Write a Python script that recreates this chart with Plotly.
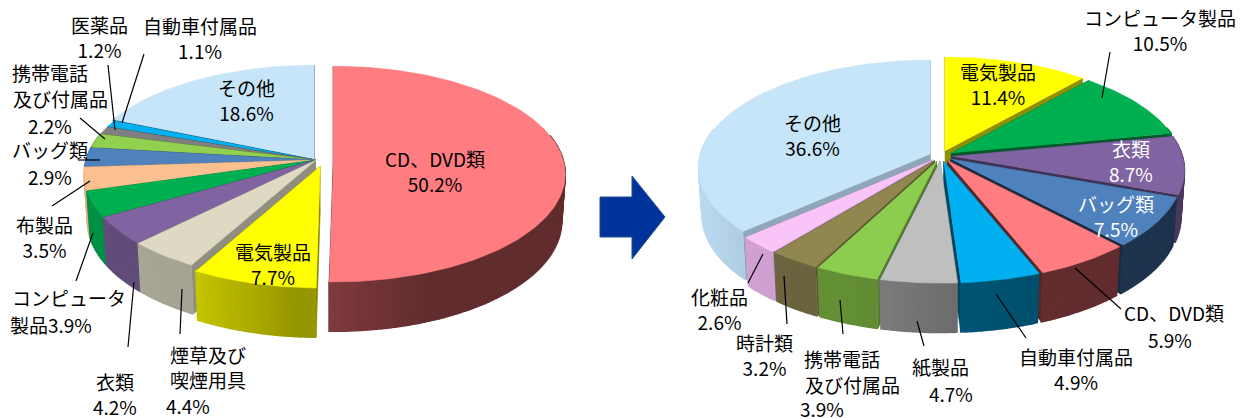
import math
import plotly.graph_objects as go

# ---------- data ----------
left_names = ["CD、DVD類", "電気製品", "煙草及び喫煙用具", "衣類", "コンピュータ製品", "布製品", "バッグ類",
              "携帯電話及び付属品", "医薬品", "自動車付属品", "その他"]
left_values = [50.2, 7.7, 4.4, 4.2, 3.9, 3.5, 2.9, 2.2, 1.2, 1.1, 18.6]
left_explode = [0.075, 0.03, 0, 0, 0, 0, 0, 0, 0, 0, 0.012]
left_nudge = [(0, 0), (6, 3), (0, 0), (0, 0), (0, 0), (0, 0), (0, 0), (0, 0), (0, 0), (0, 0), (0, 0)]
left_grad = [0.3, 0.3, 0.03, 0.05, 0.05, 0.05, 0.05, 0.05, 0.05, 0.05, 0.05]
left_top = ["#FF7C80", "#FFFF00", "#DDD9C3", "#8064A2", "#00B050", "#FAC090", "#4F81BD", "#92D050",
            "#7F7F7F", "#00B0F0", "#C6E5F8"]
left_wall = ["#652E30", "#9C9C00", "#A9A797", "#614B7A", "#009045", "#E0AC80", "#3A5F8C", "#6E9C3C",
             "#5A5A5A", "#0080B0", "#566A78"]

right_names = ["電気製品", "コンピュータ製品", "衣類", "バッグ類", "CD、DVD類", "自動車付属品", "紙製品",
               "携帯電話及び付属品", "時計類", "化粧品", "その他"]
right_values = [11.4, 10.5, 8.7, 7.5, 5.9, 4.9, 4.7, 3.9, 3.2, 2.6, 36.6]
right_explode = [0.05] * 11
right_nudge = [(0, 0)] * 11
right_grad = [0.05, 0.05, 0.03, 0.02, 0.02, 0.1, 0.18, 0.05, 0.03, 0.03, 0.15]
right_top = ["#FFFF00", "#00B050", "#8064A2", "#4F81BD", "#FF7C80", "#00B0F0", "#BFBFBF", "#8CCC4F",
             "#8F8650", "#F9C5F9", "#C6E5F8"]
right_wall = ["#A8A800", "#006A30", "#4A3A60", "#1F344F", "#652E30", "#00506E", "#6C6C6C", "#638F35",
              "#6C6540", "#D3A3D3", "#A8C4D8"]

left_labels = [
    ("医薬品<br>1.2%", 99, 37), ("自動車付属品<br>1.1%", 200, 38), ("携帯電話", 50, 72), ("及び付属品", 60, 98),
    ("2.2%", 50, 125), ("バッグ類", 50, 149), ("2.9%", 50, 176), ("布製品<br>3.5%", 44, 237),
    ("コンピュータ", 69, 297), ("製品3.9%", 51, 324), ("衣類<br>4.2%", 115, 394),
    ("煙草及び<br>喫煙用具", 208, 367), ("4.4%", 188, 405),
    ("電気製品<br>7.7%", 273, 264), ("その他<br>18.6%", 246, 100), ("CD、DVD類<br>50.2%", 435, 171),
]
right_labels = [
    ("コンピュータ製品<br>10.5%", 1160, 30), ("電気製品<br>11.4%", 998, 84), ("その他<br>36.6%", 812, 135),
    ("化粧品<br>2.6%", 719, 309), ("時計類<br>3.2%", 764, 355), ("携帯電話", 842, 358), ("及び付属品", 852, 384),
    ("3.9%", 822, 408), ("紙製品", 940, 366), ("4.7%", 951, 393), ("自動車付属品<br>4.9%", 1076, 369),
    ("CD、DVD類", 1174, 312), ("5.9%", 1170, 339),
]
white_labels = [("衣類<br>8.7%", 1131, 161), ("バッグ類<br>7.5%", 1116, 216)]
left_leaders = [(108, 65, 115, 130), (144, 54, 122, 123), (80, 118, 105, 139), (78, 160, 100, 160),
                (52, 206, 90, 181), (76, 281, 93, 233), (128, 347, 134, 282), (180, 334, 182, 289)]
right_leaders = [(1110, 52, 1102, 98), (748, 283, 763, 254), (787, 324, 784, 276), (843, 334, 840, 300),
                 (924, 346, 917, 321), (1026, 338, 996, 294), (1121, 309, 1075, 268)]
ARROW = "M600,197 L632,197 L632,176 L665,217 L632,259 L632,237 L600,237 Z"

RX, RY, PERSP, DEPTH, SHRINK = 230, 106, 0.13, 47, 0.985


def point(th, r, cx, cy, ox, oy, bottom=False):
    s, c = -math.cos(th), math.sin(th)
    w = 1 / (1 - PERSP * s)
    x, y = RX * r * c * w, RY * r * s * w
    if bottom:
        return cx + ox + x * SHRINK, cy + oy + y * SHRINK + DEPTH * (1 + 0.6 * (w - 1))
    return cx + ox + x, cy + oy + y


def blend(col, f):
    v = [int(col[i:i + 2], 16) for i in (1, 3, 5)]
    return "#%02x%02x%02x" % tuple(min(255, max(0, round(a * f))) for a in v)


def poly(fig, pts, color, width=0.6):
    fig.add_trace(go.Scatter(x=[p[0] for p in pts], y=[p[1] for p in pts], mode="lines", fill="toself",
                             fillcolor=color, line=dict(color=color, width=width), hoverinfo="skip",
                             showlegend=False))


def draw_pie(fig, values, names, tops, walls, explode, nudge, grad, cx, cy):
    total = sum(values)
    start, slices = 0.0, []
    for v, n, t, w, e, nd, g in zip(values, names, tops, walls, explode, nudge, grad):
        sweep = v / total * 2 * math.pi
        slices.append((start, start + sweep, t, w, e, n, v, nd, g))
        start += sweep
    slices.sort(key=lambda q: -math.cos((q[0] + q[1]) / 2))
    for a0, a1, top, wall, e, name, v, nd, g in slices:
        mid = (a0 + a1) / 2
        ox, oy = e * RX * math.sin(mid) + nd[0], -e * RY * math.cos(mid) + nd[1]
        args = (cx, cy, ox, oy)
        ca_t, ca_b = point(0, 0, *args), point(0, 0, *args, True)
        for a in (a0, a1):
            poly(fig, [ca_t, point(a, 1, *args), point(a, 1, *args, True), ca_b], blend(wall, 0.85))
        n = max(2, int((a1 - a0) / 0.02))
        xs = [point(a0 + (a1 - a0) * i / n, 1, *args)[0] for i in range(n + 1)]
        xmin = min(xs)
        for i in range(n):
            u0 = a0 + (a1 - a0) * i / n
            u1 = a0 + (a1 - a0) * (i + 1) / n
            if -math.cos((u0 + u1) / 2) < -0.25:
                continue
            dx = (xs[i] + xs[i + 1]) / 2 - xmin
            shade = 0.96 + g * max(0, 1 - dx / 100)
            poly(fig, [point(u0, 1, *args), point(u1, 1, *args), point(u1, 1, *args, True),
                       point(u0, 1, *args, True)], blend(wall, shade), 1.5)
        m = max(8, n)
        arc = [point(a0 + (a1 - a0) * i / m, 1, *args) for i in range(m + 1)]
        fig.add_trace(go.Scatter(x=[ca_t[0]] + [p[0] for p in arc], y=[ca_t[1]] + [p[1] for p in arc],
                                 mode="lines", fill="toself", fillcolor=top, line=dict(color=top, width=0.6),
                                 name=name, text=f"{name} {v}%", hoverinfo="text", showlegend=False))


fig = go.Figure()
draw_pie(fig, left_values, left_names, left_top, left_wall, left_explode, left_nudge, left_grad, 316, 160)
draw_pie(fig, right_values, right_names, right_top, right_wall, right_explode, right_nudge, right_grad, 941, 156)

FONT = "Noto Sans CJK JP"
for text, x, y in left_labels + right_labels:
    fig.add_annotation(x=x, y=y, text=text, showarrow=False, xanchor="center", yanchor="middle",
                       font=dict(family=FONT, size=19, color="#000000"), align="center")
for text, x, y in white_labels:
    fig.add_annotation(x=x, y=y, text=text, showarrow=False, yanchor="middle",
                       font=dict(family=FONT, size=19, color="#FFFFFF"), align="center")

shapes = [dict(type="line", x0=a, y0=b, x1=c, y1=d, xref="x", yref="y", line=dict(color="#000000", width=1.2))
          for a, b, c, d in left_leaders + right_leaders]
shapes.append(dict(type="path", path=ARROW, xref="x", yref="y", fillcolor="#003399",
                   line=dict(color="#1F4E8C", width=1)))
fig.update_layout(
    width=1242, height=419, margin=dict(l=0, r=0, t=0, b=0), autosize=False,
    paper_bgcolor="#FFFFFF", plot_bgcolor="#FFFFFF", shapes=shapes, showlegend=False,
    xaxis=dict(range=[0, 1242], visible=False, fixedrange=True),
    yaxis=dict(range=[419, 0], visible=False, fixedrange=True),
)
fig.write_html("out.html", config={"displayModeBar": False},
               post_script="document.body.style.margin='0';document.documentElement.style.overflow='hidden';")
